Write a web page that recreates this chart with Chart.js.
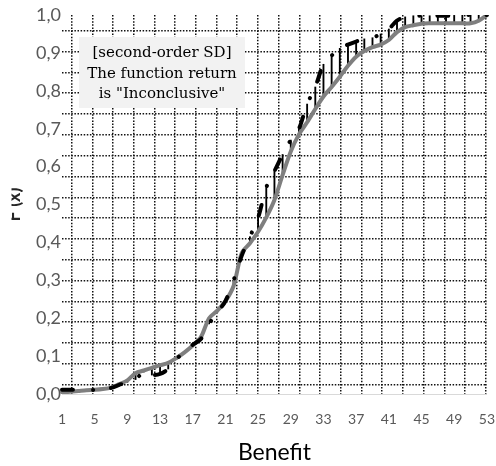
<!DOCTYPE html>
<html>
<head>
<meta charset="utf-8">
<script src="https://cdn.jsdelivr.net/npm/chart.js@4/dist/chart.umd.min.js"></script>
<style>
  html, body { margin: 0; padding: 0; background: #ffffff; overflow: hidden; }
  #wrap { position: relative; width: 496px; height: 466px; }
</style>
</head>
<body>
<div id="wrap"><canvas id="c"></canvas></div>
<script>
// ---- data ----
const categories = [1,2,3,4,5,6,7,8,9,10,11,12,13,14,15,16,17,18,19,20,21,22,23,24,25,26,27,28,29,30,31,32,33,34,35,36,37,38,39,40,41,42,43,44,45,46,47,48,49,50,51,52,53];
const xTickLabels = ['1','5','9','13','17','21','25','29','33','37','41','45','49','53'];
const yTickLabels = ['0,0','0,1','0,2','0,3','0,4','0,5','0,6','0,7','0,8','0,9','1,0'];
const seriesGray = [0.005,0.006,0.008,0.010,0.011,0.013,0.017,0.026,0.036,0.055,
                    0.062,0.069,0.076,0.082,0.095,0.110,0.128,0.150,0.200,0.220,
                    0.245,0.285,0.372,0.398,0.428,0.466,0.512,0.578,0.640,0.685,
                    0.717,0.752,0.785,0.810,0.837,0.866,0.890,0.905,0.915,0.922,
                    0.934,0.955,0.968,0.973,0.977,0.978,0.978,0.978,0.978,0.978,
                    0.978,0.985,1.000];
const seriesBlack = [0.011,0.011,0.011,0.010,0.011,0.013,0.016,0.024,0.031,0.038,
                     0.058,0.050,0.053,0.066,0.092,0.112,0.130,0.145,0.185,0.215,
                     0.245,0.300,0.365,0.415,0.465,0.545,0.588,0.632,0.670,0.700,
                     0.765,0.810,0.870,0.893,0.912,0.922,0.930,0.937,0.940,0.950,
                     0.963,0.985,0.995,0.998,0.998,0.998,0.998,0.998,0.999,1.000,
                     1.000,1.000,1.000];
const noteLines = ['[second-order SD]', 'The function return', 'is "Inconclusive"'];
const yTitle = 'F (x)';
const xTitle = 'Benefit';

// high-low lines built from the two series
const hiLo = seriesGray.map((g, i) => [Math.min(g, seriesBlack[i]), Math.max(g, seriesBlack[i])]);

const notePlugin = {
  id: 'note',
  beforeDatasetsDraw(chart) {
    const ca = chart.chartArea, ctx = chart.ctx;
    const bx = ca.left + 17, by = ca.top + 22, bw = 166, bh = 71;
    ctx.save();
    ctx.fillStyle = '#f2f2f2';
    ctx.fillRect(bx, by, bw, bh);
    ctx.fillStyle = '#000000';
    ctx.font = '15px "DejaVu Serif"';
    ctx.textAlign = 'center';
    ctx.textBaseline = 'middle';
    noteLines.forEach((t, i) => ctx.fillText(t, bx + bw / 2, by + 16 + i * 20.7));
    ctx.restore();
  },
  afterDraw(chart) {
    const ca = chart.chartArea, ctx = chart.ctx;
    ctx.save();
    ctx.beginPath();
    ctx.rect(11.5, 0, 60, chart.height);
    ctx.clip();
    ctx.translate(20, (ca.top + ca.bottom) / 2);
    ctx.rotate(-Math.PI / 2);
    ctx.font = 'bold 18px Lato';
    ctx.fillStyle = '#262626';
    ctx.textAlign = 'center';
    ctx.textBaseline = 'alphabetic';
    ctx.fillText(yTitle, 0, 0);
    ctx.restore();
  }
};

const gridDash = [1.5, 1.6];

new Chart(document.getElementById('c'), {
  type: 'line',
  data: {
    labels: categories,
    datasets: [
      {
        type: 'bar', data: hiLo, backgroundColor: '#000000', borderWidth: 0,
        barThickness: 1.2, order: 3, xAxisID: 'x', yAxisID: 'y'
      },
      {
        data: seriesGray, borderColor: '#7f7f7f', borderWidth: 4, pointRadius: 0,
        tension: 0.3, fill: false, order: 2, borderCapStyle: 'round', borderJoinStyle: 'round'
      },
      {
        data: seriesBlack, borderColor: '#000000', borderWidth: 4, pointRadius: 0,
        tension: 0.3, fill: false, order: 1, borderCapStyle: 'round',
        borderDash: [11, 20, 0.1, 18]
      }
    ]
  },
  options: {
    responsive: true,
    maintainAspectRatio: false,
    animation: false,
    layout: { padding: { top: 15, left: 0, right: 0, bottom: 0 } },
    plugins: { legend: { display: false }, tooltip: { enabled: false } },
    scales: {
      x: {
        type: 'category', offset: false,
        grid: { display: false, drawTicks: true, tickLength: 16 },
        border: { display: true, color: '#d9d9d9', width: 1 },
        ticks: {
          autoSkip: false, maxRotation: 0, padding: 1,
          color: '#595959', font: { family: 'Lato', size: 14 },
          callback: (v, i) => (i % 4 === 0 ? xTickLabels[i / 4] : '')
        },
        title: { display: true, text: xTitle, color: '#000000',
                 font: { family: 'Lato', size: 23 }, padding: { top: 0, bottom: 0 } },
        afterFit: s => { s.height = 72; }
      },
      y: {
        min: 0, max: 1,
        grid: { display: false, drawTicks: false },
        border: { display: false },
        ticks: {
          stepSize: 0.1, padding: 1, color: '#595959',
          font: { family: 'Lato', size: 18 },
          callback: (v, i) => yTickLabels[i]
        },
        afterFit: s => { s.width = 62; }
      },
      xg: {
        type: 'linear', position: 'top', min: 1, max: 53,
        grid: { display: true, drawTicks: false, color: '#111111', lineWidth: 1.5 },
        border: { display: false, dash: gridDash },
        ticks: { display: false },
        afterFit: s => { s.height = 0; },
        afterBuildTicks: s => {
          const t = [];
          for (let k = 0; k <= 20; k++) t.push({ value: 2.18 + 2.5335 * k });
          s.ticks = t;
        }
      },
      yg: {
        type: 'linear', position: 'right', min: 0, max: 1,
        grid: { display: true, drawTicks: false, color: '#111111', lineWidth: 1.5 },
        border: { display: false, dash: gridDash },
        ticks: { display: false },
        afterFit: s => { s.width = 0; },
        afterBuildTicks: s => {
          const t = [];
          for (let k = 0; k <= 17; k++) t.push({ value: 0.025 + 0.0549 * k });
          s.ticks = t;
        }
      }
    }
  },
  plugins: [notePlugin]
});
</script>
</body>
</html>
